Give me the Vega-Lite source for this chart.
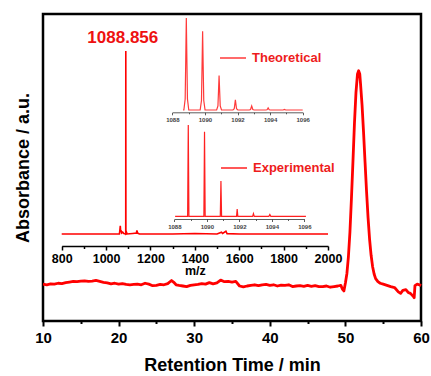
{
  "$schema": "https://vega.github.io/schema/vega-lite/v6.json",
  "width": 378,
  "height": 307,
  "autosize": {"type": "none"},
  "padding": {"left": 43, "top": 14, "right": 10, "bottom": 55},
  "background": "white",
  "config": {
    "view": {"stroke": "black", "strokeWidth": 2.5},
    "font": "Liberation Sans"
  },
  "datasets": {
    "hplc": [
      {"t":10,"a":12.0},{"t":10.5,"a":11.8},{"t":11,"a":12.1},{"t":11.5,"a":12.0},{"t":12,"a":12.3},{"t":12.5,"a":12.2},{"t":13,"a":12.5},{"t":13.5,"a":12.7},{"t":14,"a":12.9},{"t":14.5,"a":12.8},
      {"t":15,"a":13.0},{"t":15.5,"a":13.1},{"t":16,"a":12.9},{"t":16.5,"a":13.0},{"t":17,"a":13.2},{"t":17.5,"a":12.9},{"t":18,"a":12.6},{"t":18.5,"a":12.4},{"t":19,"a":12.1},{"t":19.5,"a":12.3},
      {"t":20,"a":12.0},{"t":20.5,"a":12.2},{"t":21,"a":11.9},{"t":21.5,"a":11.8},{"t":22,"a":11.9},{"t":22.5,"a":12.0},{"t":23,"a":11.8},{"t":23.5,"a":12.3},{"t":24,"a":12.0},{"t":24.5,"a":11.5},
      {"t":25,"a":11.6},{"t":25.5,"a":11.9},{"t":26,"a":11.8},{"t":26.5,"a":12.2},{"t":27,"a":13.2},{"t":27.3,"a":12.6},{"t":27.6,"a":11.8},{"t":28,"a":11.6},{"t":28.5,"a":11.4},{"t":29,"a":11.2},
      {"t":29.5,"a":11.6},{"t":30,"a":11.8},{"t":30.5,"a":11.9},{"t":31,"a":12.2},{"t":31.5,"a":12.0},{"t":32,"a":12.5},{"t":32.5,"a":12.1},{"t":33,"a":12.4},{"t":33.5,"a":13.3},{"t":34,"a":12.8},
      {"t":34.5,"a":12.9},{"t":35,"a":12.7},{"t":35.5,"a":12.9},{"t":36,"a":11.4},{"t":36.5,"a":11.1},{"t":37,"a":11.4},{"t":37.5,"a":11.6},{"t":38,"a":11.8},{"t":38.5,"a":11.5},{"t":39,"a":11.8},
      {"t":39.5,"a":11.9},{"t":40,"a":11.6},{"t":40.5,"a":11.8},{"t":41,"a":11.4},{"t":41.5,"a":11.7},{"t":42,"a":11.6},{"t":42.5,"a":11.8},{"t":43,"a":11.2},{"t":43.5,"a":11.4},{"t":44,"a":11.5},
      {"t":44.5,"a":11.3},{"t":45,"a":11.6},{"t":45.5,"a":11.3},{"t":46,"a":11.5},{"t":46.5,"a":11.2},{"t":47,"a":11.2},{"t":47.5,"a":11.4},{"t":48,"a":11.0},{"t":48.5,"a":11.2},{"t":49,"a":11.4},
      {"t":49.4,"a":11.6},{"t":49.6,"a":10.4},{"t":49.8,"a":9.8},{"t":50.0,"a":12.4},{"t":50.2,"a":15.5},{"t":50.4,"a":21},{"t":50.6,"a":29},{"t":50.8,"a":40},{"t":51.0,"a":52},{"t":51.2,"a":64.5},
      {"t":51.4,"a":74.5},{"t":51.6,"a":80.5},{"t":51.75,"a":81.5},{"t":51.9,"a":80.5},{"t":52.0,"a":77.3},{"t":52.2,"a":70.5},{"t":52.4,"a":61.5},{"t":52.6,"a":51.7},{"t":52.8,"a":42.1},{"t":53.0,"a":33.6},
      {"t":53.2,"a":26.6},{"t":53.4,"a":21.4},{"t":53.6,"a":17.7},{"t":53.8,"a":15.3},{"t":54.0,"a":13.8},{"t":54.3,"a":12.8},{"t":54.6,"a":12.3},{"t":55,"a":12.0},{"t":55.5,"a":11.6},{"t":56,"a":11.2},
      {"t":56.5,"a":10.9},{"t":57,"a":9.5},{"t":57.3,"a":9.0},{"t":57.6,"a":10.0},{"t":58.0,"a":10.2},{"t":58.3,"a":9.3},{"t":58.6,"a":9.0},{"t":59.0,"a":8.0},{"t":59.1,"a":7.6},{"t":59.2,"a":11.5},
      {"t":59.5,"a":12.0},{"t":59.8,"a":11.8},{"t":60,"a":11.5}
    ],
    "ms": [
      {"mz":800,"i":0},{"mz":1000,"i":0},{"mz":1060,"i":0},{"mz":1062,"i":2},{"mz":1064,"i":4.5},{"mz":1066,"i":1},{"mz":1068,"i":2},{"mz":1070,"i":0.5},{"mz":1075,"i":1},{"mz":1080,"i":0.3},
      {"mz":1088.5,"i":0},{"mz":1088.856,"i":100},{"mz":1089.3,"i":0.5},{"mz":1092,"i":1},{"mz":1095,"i":0},{"mz":1120,"i":0.3},{"mz":1136,"i":0.5},{"mz":1139,"i":2},{"mz":1142,"i":0.5},{"mz":1150,"i":0},
      {"mz":1300,"i":0},{"mz":1400,"i":0.3},{"mz":1500,"i":0},{"mz":1520,"i":1},{"mz":1525,"i":0.3},{"mz":1540,"i":1.5},{"mz":1545,"i":0.2},{"mz":1600,"i":0},{"mz":2000,"i":0}
    ],
    "theo": [
      {"mz":1088.66,"i":0},
      {"mz":1088.71,"i":0},{"mz":1088.79,"i":12},{"mz":1088.825,"i":55},{"mz":1088.86,"i":100},{"mz":1088.895,"i":55},{"mz":1088.93,"i":12},{"mz":1089.01,"i":0},
      {"mz":1089.71,"i":0},{"mz":1089.79,"i":10.3},{"mz":1089.825,"i":47.1},{"mz":1089.86,"i":85.7},{"mz":1089.895,"i":47.1},{"mz":1089.93,"i":10.3},{"mz":1090.01,"i":0},
      {"mz":1090.72,"i":0},{"mz":1090.8,"i":4.5},{"mz":1090.835,"i":20.6},{"mz":1090.87,"i":37.4},{"mz":1090.905,"i":20.6},{"mz":1090.94,"i":4.5},{"mz":1091.02,"i":0},
      {"mz":1091.72,"i":0},{"mz":1091.8,"i":1.3},{"mz":1091.835,"i":6.1},{"mz":1091.87,"i":11},{"mz":1091.905,"i":6.1},{"mz":1091.94,"i":1.3},{"mz":1092.02,"i":0},
      {"mz":1092.72,"i":0},{"mz":1092.8,"i":0.5},{"mz":1092.835,"i":2.4},{"mz":1092.87,"i":4.4},{"mz":1092.905,"i":2.4},{"mz":1092.94,"i":0.5},{"mz":1093.02,"i":0},
      {"mz":1093.73,"i":0},{"mz":1093.81,"i":0.3},{"mz":1093.845,"i":1.2},{"mz":1093.88,"i":2.2},{"mz":1093.915,"i":1.2},{"mz":1093.95,"i":0.3},{"mz":1094.03,"i":0},
      {"mz":1094.8,"i":0},{"mz":1094.88,"i":0.6},{"mz":1094.96,"i":0},
      {"mz":1096,"i":0}
    ],
    "exp": [
      {"mz":1088.05,"i":0},{"mz":1088.82,"i":0},{"mz":1088.86,"i":100},{"mz":1088.9,"i":0},{"mz":1089.82,"i":0},{"mz":1089.86,"i":92.7},{"mz":1089.9,"i":0},
      {"mz":1090.83,"i":0},{"mz":1090.87,"i":38.7},{"mz":1090.91,"i":0},{"mz":1091.83,"i":0},{"mz":1091.87,"i":8},{"mz":1091.91,"i":0},
      {"mz":1092.82,"i":0},{"mz":1092.87,"i":3},{"mz":1092.92,"i":0},{"mz":1093.82,"i":0},{"mz":1093.88,"i":2},{"mz":1093.94,"i":0},{"mz":1096.1,"i":0}
    ]
  },
  "layer": [
    {
      "data": {"name": "hplc"},
      "mark": {"type": "line", "color": "#ff0000", "strokeWidth": 2.8, "strokeJoin": "round"},
      "encoding": {
        "x": {"field": "t", "type": "quantitative", "scale": {"domain": [10, 60], "nice": false, "zero": false},
          "axis": {"orient": "bottom", "title": "Retention Time / min", "values": [10,15,20,25,30,35,40,45,50,55,60],
            "labelExpr": "datum.value % 10 === 0 ? datum.label : ''",
            "tickSize": {"condition": {"test": "datum.value % 10 === 0", "value": 5}, "value": 2.5},
            "tickColor": "black", "tickWidth": 2, "domain": false, "grid": false, "labelFlush": false, "labelOverlap": false,
            "labelFont": "Liberation Sans", "labelFontWeight": "bold", "labelFontSize": 15, "labelColor": "black", "labelPadding": 4,
            "titleFont": "Liberation Sans", "titleFontSize": 18, "titleFontWeight": "bold", "titleColor": "black", "titlePadding": 11}},
        "y": {"field": "a", "type": "quantitative", "scale": {"domain": [0, 100], "nice": false},
          "axis": {"title": "Absorbance / a.u.", "labels": false, "ticks": false, "domain": false, "grid": false,
            "titleFont": "Liberation Sans", "titleFontSize": 18, "titleFontWeight": "bold", "titleColor": "black", "titlePadding": 11}}
      }
    },
    {
      "data": {"name": "ms"},
      "encoding": {
        "x": {"field": "mz", "type": "quantitative", "scale": {"domain": [800, 2000], "range": [18.7, 285], "nice": false, "zero": false},
          "axis": {"orient": "bottom", "offset": -75, "title": "m/z", "values": [800,900,1000,1100,1200,1300,1400,1500,1600,1700,1800,1900,2000],
            "labelExpr": "datum.value % 200 === 0 ? datum.label : ''",
            "format": "d",
            "tickSize": {"condition": {"test": "datum.value % 200 === 0", "value": 4}, "value": 2.5},
            "tickColor": "black", "tickWidth": 1.5, "domainColor": "black", "domainWidth": 1.5, "grid": false, "labelFlush": false, "labelOverlap": false,
            "labelFont": "Liberation Sans", "labelFontWeight": "bold", "labelFontSize": 12.5, "labelColor": "black", "labelPadding": 2,
            "titleFont": "Liberation Sans", "titleFontSize": 12.5, "titleFontWeight": "bold", "titleColor": "black", "titlePadding": 0}},
        "y": {"field": "i", "type": "quantitative", "scale": {"domain": [0, 100], "range": [220, 37], "nice": false}, "axis": null}
      },
      "layer": [
        {"mark": {"type": "line", "color": "#ff0000", "strokeWidth": 1.6}},
        {"transform": [{"filter": "datum.i === 100"}],
         "mark": {"type": "text", "color": "#ee1111", "fontSize": 17, "fontWeight": "bold", "font": "Liberation Sans", "align": "center", "baseline": "alphabetic", "dx": -3, "dy": -8},
         "encoding": {"text": {"field": "mz", "type": "quantitative", "format": ".3f"}}}
      ]
    },
    {
      "data": {"name": "theo"},
      "mark": {"type": "line", "strokeWidth": 1.2},
      "encoding": {
        "x": {"field": "mz", "type": "quantitative", "scale": {"domain": [1088, 1096], "range": [129.3, 259.7], "nice": false, "zero": false},
          "axis": {"orient": "bottom", "offset": -208.7, "title": null, "values": [1088,1089,1090,1091,1092,1093,1094,1095,1096],
            "labelExpr": "datum.value % 2 === 0 ? datum.label : ''", "format": "d",
            "tickSize": {"condition": {"test": "datum.value % 2 === 0", "value": 2.5}, "value": 1.5},
            "tickColor": "#333", "tickWidth": 0.8, "domainColor": "#333", "domainWidth": 0.8, "grid": false, "labelFlush": false, "labelOverlap": false,
            "labelFont": "Liberation Sans", "labelFontWeight": "bold", "labelFontSize": 6, "labelColor": "#444", "labelPadding": 2}},
        "y": {"field": "i", "type": "quantitative", "scale": {"domain": [0, 100], "range": [96, 4], "nice": false}, "axis": null},
        "color": {"datum": "Theoretical", "scale": {"range": ["#ff3a3a"]},
          "legend": {"orient": "none", "legendX": 176, "legendY": 30, "title": null, "padding": 0, "symbolType": "stroke", "symbolSize": 676, "symbolStrokeWidth": 1.5,
            "labelFont": "Liberation Sans", "labelFontSize": 13, "labelFontWeight": "bold", "labelColor": "#ee1c1c", "labelOffset": 5}}
      }
    },
    {
      "data": {"name": "exp"},
      "mark": {"type": "line", "strokeWidth": 1.2},
      "encoding": {
        "x": {"field": "mz", "type": "quantitative", "scale": {"domain": [1088, 1096], "range": [131.3, 261.3], "nice": false, "zero": false},
          "axis": {"orient": "bottom", "offset": -102, "title": null, "values": [1088,1089,1090,1091,1092,1093,1094,1095,1096],
            "labelExpr": "datum.value % 2 === 0 ? datum.label : ''", "format": "d",
            "tickSize": {"condition": {"test": "datum.value % 2 === 0", "value": 2.5}, "value": 1.5},
            "tickColor": "#333", "tickWidth": 0.8, "domainColor": "#333", "domainWidth": 0.8, "grid": false, "labelFlush": false, "labelOverlap": false,
            "labelFont": "Liberation Sans", "labelFontWeight": "bold", "labelFontSize": 6, "labelColor": "#444", "labelPadding": 2}},
        "y": {"field": "i", "type": "quantitative", "scale": {"domain": [0, 100], "range": [202.3, 111], "nice": false}, "axis": null},
        "color": {"datum": "Experimental", "scale": {"range": ["#ff2020"]},
          "legend": {"orient": "none", "legendX": 177, "legendY": 140, "title": null, "padding": 0, "symbolType": "stroke", "symbolSize": 676, "symbolStrokeWidth": 1.5,
            "labelFont": "Liberation Sans", "labelFontSize": 13, "labelFontWeight": "bold", "labelColor": "#ee1c1c", "labelOffset": 5}}
      }
    }
  ],
  "resolve": {
    "scale": {"x": "independent", "y": "independent", "color": "independent"},
    "axis": {"x": "independent", "y": "independent"},
    "legend": {"color": "independent"}
  }
}
